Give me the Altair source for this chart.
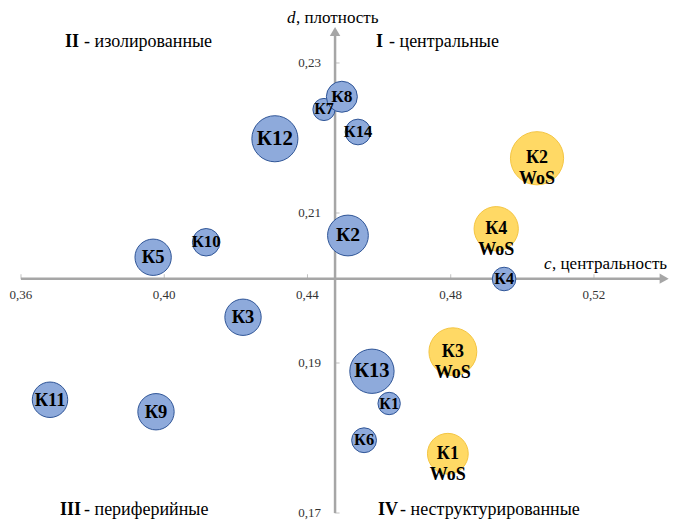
import altair as alt
import pandas as pd

# ---- data ----
clusters = ["К1", "К2", "К3", "К4", "К5", "К6", "К7", "К8", "К9", "К10", "К11", "К12", "К13", "К14"]
c_vals = [0.4628, 0.4513, 0.4220, 0.4949, 0.3969, 0.4558, 0.4446, 0.4496, 0.3977, 0.4117, 0.3681, 0.4309, 0.4580, 0.4541]
d_vals = [0.1846, 0.2070, 0.1961, 0.2012, 0.2041, 0.1797, 0.2238, 0.2255, 0.1835, 0.2061, 0.1851, 0.2199, 0.1889, 0.2208]
c_sizes = [500, 1662, 1320, 555, 1320, 616, 491, 960, 1320, 755, 1257, 2124, 1963, 660]

wos_labels = ["К1\nWoS", "К2\nWoS", "К3\nWoS", "К4\nWoS"]
wos_c = [0.4792, 0.5041, 0.4806, 0.4927]
wos_d = [0.1779, 0.2173, 0.1915, 0.2079]
wos_sizes = [1662, 2827, 2290, 1963]

x_ticks = [0.36, 0.40, 0.44, 0.48, 0.52]
x_tick_labels = ["0,36", "0,40", "0,44", "0,48", "0,52"]
y_ticks = [0.17, 0.19, 0.21, 0.23]
y_tick_labels = ["0,17", "0,19", "0,21", "0,23"]

X_CROSS = 0.4477
Y_CROSS = 0.20125
X_END = 0.5396
Y_END = 0.2342

W, H = 662, 512
X_DOMAIN = [0.35637, 0.541233]
Y_DOMAIN = [0.169067, 0.237333]

FONT = "Liberation Serif"
GRAY = "#a6a6a6"

xs = alt.Scale(domain=X_DOMAIN, nice=False, zero=False)
ys = alt.Scale(domain=Y_DOMAIN, nice=False, zero=False)
size_id = alt.Scale(type="linear", domain=[0, 3000], range=[0, 3000], zero=True)

def X(f):
    return alt.X(f, type="quantitative", scale=xs, axis=None)

def Y(f):
    return alt.Y(f, type="quantitative", scale=ys, axis=None)

clusters_df = pd.DataFrame({"name": clusters, "c": c_vals, "d": d_vals, "s": c_sizes})
wos_df = pd.DataFrame({"name": wos_labels, "c": wos_c, "d": wos_d, "s": wos_sizes})
xt_df = pd.DataFrame({"t": x_ticks, "lab": x_tick_labels, "yc": [Y_CROSS] * len(x_ticks)})
yt_df = pd.DataFrame({"t": y_ticks, "lab": y_tick_labels, "xc": [X_CROSS] * len(y_ticks)})

# axis lines and arrows
h_axis = alt.Chart(pd.DataFrame({"x": [0.36], "x2": [X_END], "y": [Y_CROSS]})).mark_rule(
    color=GRAY, strokeWidth=2.5).encode(x=X("x"), x2="x2:Q", y=Y("y"))
v_axis = alt.Chart(pd.DataFrame({"x": [X_CROSS], "y": [0.17], "y2": [Y_END]})).mark_rule(
    color=GRAY, strokeWidth=2.5).encode(x=X("x"), y=Y("y"), y2="y2:Q")
h_arrow = alt.Chart(pd.DataFrame({"x": [X_END], "y": [Y_CROSS]})).mark_point(
    shape="triangle-right", filled=True, color=GRAY, size=110, opacity=1).encode(x=X("x"), y=Y("y"))
v_arrow = alt.Chart(pd.DataFrame({"x": [X_CROSS], "y": [Y_END]})).mark_point(
    shape="triangle-up", filled=True, color=GRAY, size=110, opacity=1).encode(x=X("x"), y=Y("y"))

x_tick_marks = alt.Chart(xt_df).mark_tick(orient="vertical", size=5, thickness=1, color=GRAY, yOffset=-2).encode(
    x=X("t"), y=Y("yc"))
y_tick_marks = alt.Chart(yt_df).mark_tick(orient="horizontal", size=5, thickness=1, color=GRAY, xOffset=2).encode(
    x=X("xc"), y=Y("t"))
x_tick_text = alt.Chart(xt_df).mark_text(font=FONT, fontSize=13, color="#333333", dy=16).encode(
    x=X("t"), y=Y("yc"), text="lab:N")
y_tick_text = alt.Chart(yt_df).mark_text(font=FONT, fontSize=13, color="#333333", align="right", dx=-14).encode(
    x=X("xc"), y=Y("t"), text="lab:N")

# bubbles
blue = alt.Chart(clusters_df).mark_circle(color="#8eaadb", stroke="#2f5597", strokeWidth=1, opacity=1).encode(
    x=X("c"), y=Y("d"), size=alt.Size("s:Q", scale=size_id, legend=None))
yellow = alt.Chart(wos_df).mark_circle(color="#ffd965", stroke="#f4c542", strokeWidth=1, opacity=1).encode(
    x=X("c"), y=Y("d"), size=alt.Size("s:Q", scale=size_id, legend=None))
blue_text = alt.Chart(clusters_df).mark_text(font=FONT, fontWeight="bold", color="#000000").encode(
    x=X("c"), y=Y("d"), text="name:N",
    size=alt.Size("s:Q", scale=alt.Scale(type="linear", domain=[491, 2124], range=[16, 21], zero=False), legend=None))
yellow_text = alt.Chart(wos_df).mark_text(font=FONT, fontWeight="bold", fontSize=18, color="#000000",
                                          lineBreak="\n", lineHeight=21).encode(
    x=X("c"), y=Y("d"), text="name:N")

one = pd.DataFrame({"a": [0]})

def note(txt, x, y, bold=False, italic=False, size=18, align="left"):
    return alt.Chart(one).mark_text(
        font=FONT, fontSize=size, fontWeight="bold" if bold else "normal",
        fontStyle="italic" if italic else "normal", color="#000000", align=align, baseline="middle"
    ).encode(x=alt.value(x), y=alt.value(y), text=alt.value(txt))

notes = [
    note("II", 57, 34, bold=True), note("- изолированные", 76, 34),
    note("I", 368, 34, bold=True), note("- центральные", 381, 34),
    note("III", 52, 502, bold=True), note("- периферийные", 76, 502),
    note("IV", 370, 502, bold=True), note("- неструктурированные", 392, 502),
    note("c", 536, 256, italic=True, size=17), note(", центральность", 544, 256, size=17),
    note("d", 279, 10, italic=True, size=17), note(", плотность", 288, 10, size=17),
]

chart = alt.layer(
    h_axis, v_axis, h_arrow, v_arrow, x_tick_marks, y_tick_marks, x_tick_text, y_tick_text,
    blue, yellow, blue_text, yellow_text, *notes
).resolve_scale(size="independent").properties(
    width=W, height=H, padding=0, autosize=alt.AutoSizeParams(type="none"), background="white"
).configure_view(stroke=None)

chart.save("out.html", embed_options={"renderer": "svg", "actions": False})
